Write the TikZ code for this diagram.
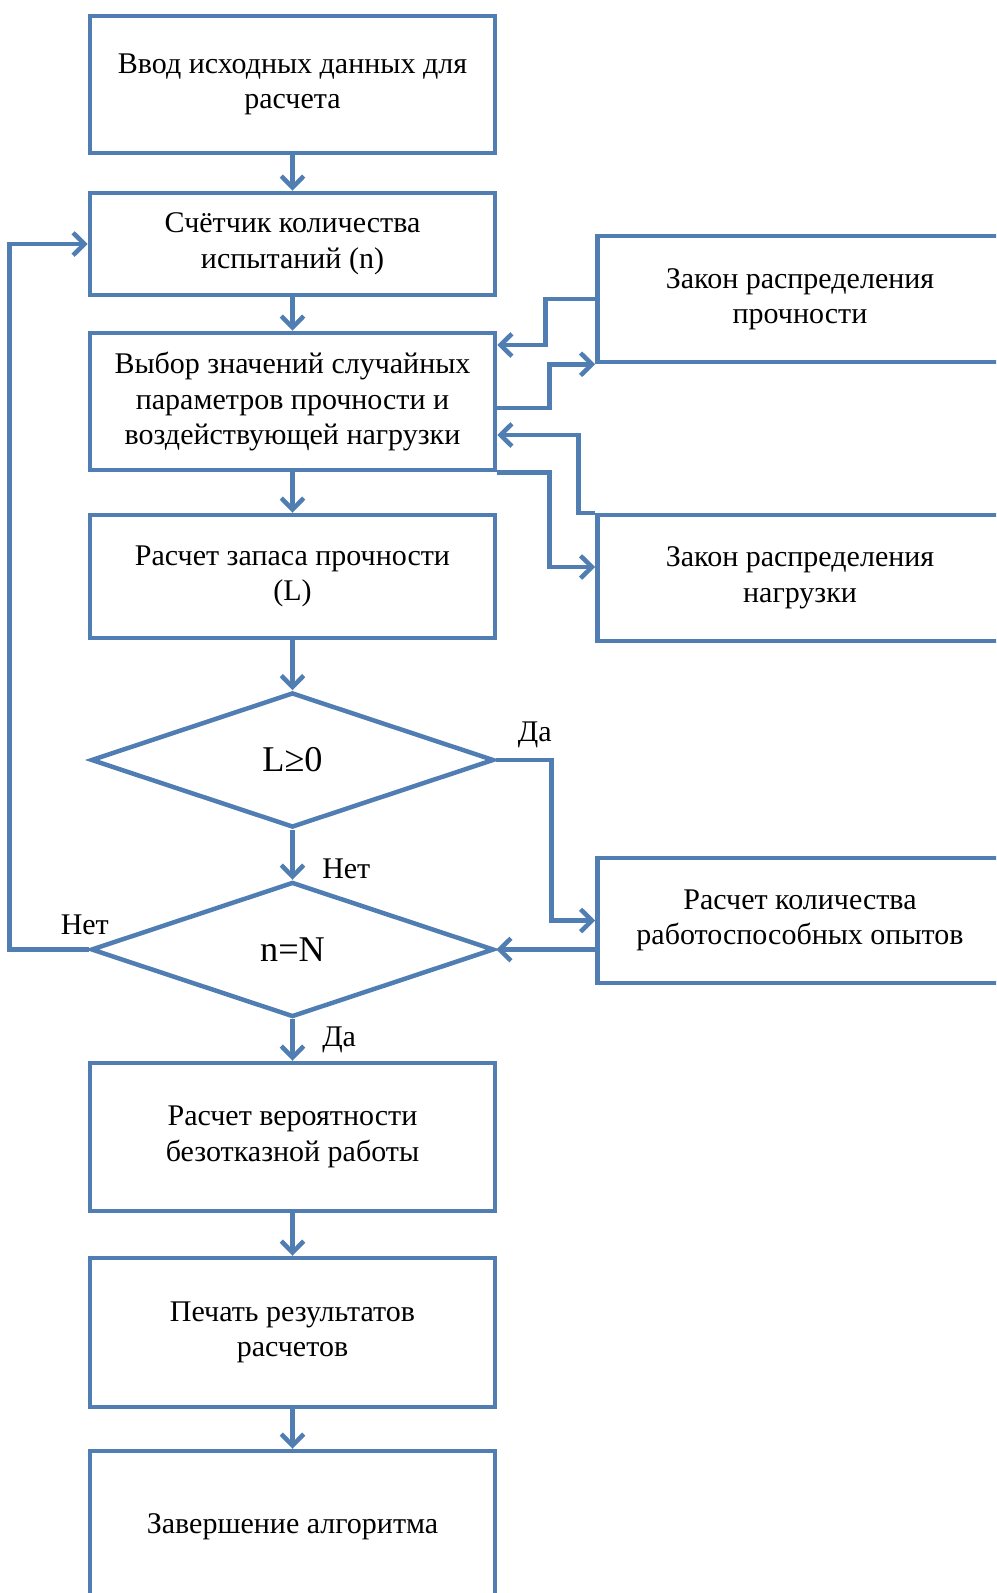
\documentclass[tikz,border=0pt]{standalone}
\usepackage{fontspec}
\setmainfont{Liberation Serif}
\usepackage{tikz}
\usetikzlibrary{arrows.meta,shapes.geometric}
\definecolor{flowblue}{RGB}{80,126,178}

\begin{document}
\begin{tikzpicture}[x=0.4pt,y=-0.4pt,
        font=\fontsize{12}{14.2}\selectfont,
        blk/.style={draw=flowblue,line width=1.8pt,rectangle,align=center,
            minimum width=162pt,inner sep=2pt},
        dec/.style={draw=flowblue,line width=1.8pt,diamond,inner sep=0pt,
            minimum width=161.2pt,minimum height=54pt,
            font=\fontsize{14.5}{16}\selectfont},
        arr/.style={draw=flowblue,line width=1.8pt,
            -{Straight Barb[length=4.6pt,width=9pt]}},
        lbl/.style={inner sep=1pt}]
    \path[use as bounding box,clip] (0,0) rectangle (996,1593);
    \node[blk,minimum height=54.8pt] (input) at (292.5,84.5) {Ввод исходных данных для\\расчета};
    \node[blk,minimum height=40.8pt] (count) at (292.5,244) {Счётчик количества\\испытаний (n)};
    \node[blk,minimum height=54.8pt] (choice) at (292.5,401.5) {Выбор значений случайных\\параметров прочности и\\воздействующей нагрузки};
    \node[blk,minimum height=49.2pt] (margin) at (292.5,576.5) {Расчет запаса прочности\\(L)};
    \node[blk,minimum height=50.4pt] (lawS) at (800,299) {Закон распределения\\прочности};
    \node[blk,minimum height=50.4pt] (lawL) at (800,578) {Закон распределения\\нагрузки};
    \node[dec] (test) at (292.5,760) {L≥0};
    \node[dec] (last) at (292.5,949.5) {n=N};
    \node[blk,minimum height=50pt] (good) at (800,920.5) {Расчет количества\\работоспособных опытов};
    \node[blk,minimum height=59.2pt] (prob) at (292.5,1137) {Расчет вероятности\\безотказной работы};
    \node[blk,minimum height=59.6pt] (print) at (292.5,1332.5) {Печать результатов\\расчетов};
    \node[blk,minimum height=60.8pt] (stop) at (292.5,1527) {Завершение алгоритма};

    \draw[arr] (input) -- (count);
    \draw[arr] (count) -- (choice);
    \draw[arr] (choice) -- (margin);
    \draw[arr] (margin) -- (test);
    \draw[arr] (lawS.west) -- ++(-50,0) |- ([yshift=22.6pt]choice.east);
    \draw[arr] ([yshift=-2.6pt]choice.east) -- ++(52,0) |- (lawS.south west);
    \draw[arr] (lawL.north west) -- ++(-17,0) |- ([yshift=-13.4pt]choice.east);
    \draw[arr] (choice.south east) -- ++(52,0) |- ([yshift=4.4pt]lawL.west);
    \draw[arr] (test) -- node[lbl,right=10pt,pos=0.78] {Нет} (last);
    \draw[arr] (test.east) -- node[lbl,above=3pt,pos=0.7] {Да} ++(55,0) |- (good.west);
    \draw[arr] (last.east -| good.west) -- (last.east);
    \draw[arr] (last.west) -- node[lbl,above=4pt,pos=0.05] {Нет} ++(-79,0) |- (count.west);
    \draw[arr] (last) -- node[lbl,right=10pt,pos=0.5] {Да} (prob);
    \draw[arr] (prob) -- (print);
    \draw[arr] (print) -- (stop);
\end{tikzpicture}
\end{document}
